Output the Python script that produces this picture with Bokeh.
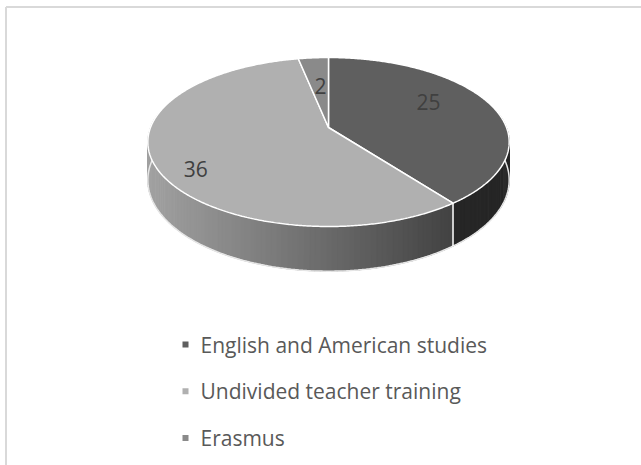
import numpy as np
from bokeh.plotting import figure
from bokeh.models import Range1d
from bokeh.core.properties import value
from bokeh.embed import file_html
from bokeh.resources import INLINE

# ---- data ----
categories = ["English and American studies", "Undivided teacher training", "Erasmus"]
counts = [25, 36, 2]
top_colors = ["#5f5f5f", "#b0b0b0", "#8a8a8a"]

# ---- layout constants (reference pixel space) ----
CX, CY = 328.0, 127.0     # apex of the pie on screen
R, H = 178.0, 82.0        # horizontal radius / vertical radius factor
K = 0.1716                # perspective factor
D = 37.0                  # thickness of the pie
LABEL_ADJ = [(-10.0, 0.675), (-10.0, 0.83), (0.7, 0.56)]  # (angle shift deg, radial fraction)
FONT = "Open Sans"

p = figure(width=641, height=465, output_backend="svg", toolbar_location=None,
           x_range=Range1d(0, 641), y_range=Range1d(465, 0), min_border=0)
p.axis.visible = False
p.grid.visible = False
p.outline_line_color = None
p.background_fill_color = "white"


def proj(phi_deg, f=1.0, drop=0.0):
    phi = np.radians(np.asarray(phi_deg, dtype=float))
    u = f * np.sin(phi)
    v = f * np.cos(phi)
    w = 1.0 + K * v
    return CX + R * u / w, CY - H * v / w + drop / w


total = float(sum(counts))
angles = np.cumsum([0.0] + [c / total * 360.0 for c in counts])

# ---- side walls (front part only) ----
def lerp_gray(t):
    a, b = 0xa2, 0x42
    g = int(round(a + (b - a) * min(max(t, 0.0), 1.0)))
    return "#%02x%02x%02x" % (g, g, g)

xs_side, ys_side, cs_side = [], [], []
xmin, xmax = CX - R * 1.016, proj(angles[1])[0]
for i in range(len(counts)):
    a0, a1 = max(angles[i], 80.0), min(angles[i + 1], 280.0)
    if a1 <= a0:
        continue
    nseg = max(1, int((a1 - a0) / 1.5))
    edges = np.linspace(a0, a1, nseg + 1)
    for j in range(nseg):
        ph = np.linspace(edges[j], edges[j + 1] + (0.3 if j < nseg - 1 else 0), 6)
        tx, ty = proj(ph)
        bx, by = proj(ph[::-1], drop=D)
        xs_side.append(list(tx) + list(bx))
        ys_side.append(list(ty) + list(by))
        if i == 0:
            cs_side.append("#262626")
        else:
            mx = float(np.mean(tx))
            cs_side.append(lerp_gray((mx - xmin) / (xmax - xmin)))

p.patches(xs_side, ys_side, fill_color=cs_side, line_color=cs_side, line_width=0.6)

# outer rim outline (bottom edge of the wall)
ph = np.linspace(75, 285, 200)
bx, by = proj(ph, drop=D)
p.line(bx, by, line_color="#e6e6e6", line_width=1.5)
# white vertical edge at the slice boundary on the wall
ex0, ey0 = proj(angles[1])
ex1, ey1 = proj(angles[1], drop=D)
p.segment([ex0], [ey0], [ex1], [ey1], line_color="white", line_width=1.5)

# ---- top faces ----
xs_top, ys_top = [], []
for i in range(len(counts)):
    ph = np.linspace(angles[i], angles[i + 1], max(4, int(angles[i + 1] - angles[i]) * 2))
    tx, ty = proj(ph)
    xs_top.append([CX] + list(tx))
    ys_top.append([CY] + list(ty))
p.patches(xs_top, ys_top, fill_color=top_colors, line_color="white", line_width=1.5)

# ---- data labels ----
lx, ly = [], []
for i in range(len(counts)):
    mid = (angles[i] + angles[i + 1]) / 2.0 + LABEL_ADJ[i][0]
    x, y = proj(mid, f=LABEL_ADJ[i][1])
    lx.append(float(x)); ly.append(float(y))
p.text(lx, ly, text=[str(c) for c in counts], text_align="center", text_baseline="middle",
       text_font=value(FONT), text_font_size="21px", text_color="#404040")

# ---- legend ----
LEG_X, LEG_Y0, LEG_DY = 185.0, 344.0, 46.8
leg_y = [LEG_Y0 + i * LEG_DY for i in range(len(categories))]
p.scatter([LEG_X] * len(categories), leg_y, marker="square", size=6,
          fill_color=top_colors, line_color=None)
p.text([LEG_X + 15] * len(categories), leg_y, text=categories, text_align="left",
       text_baseline="middle", text_font=value(FONT), text_font_size="21px",
       text_color="#595959")

# ---- chart border (left & top visible) ----
p.segment([5.5, 5.5], [6.5, 6.5], [5.5, 641], [465, 6.5], line_color="#d9d9d9", line_width=2)

open("out.html", "w").write(file_html(p, INLINE))
